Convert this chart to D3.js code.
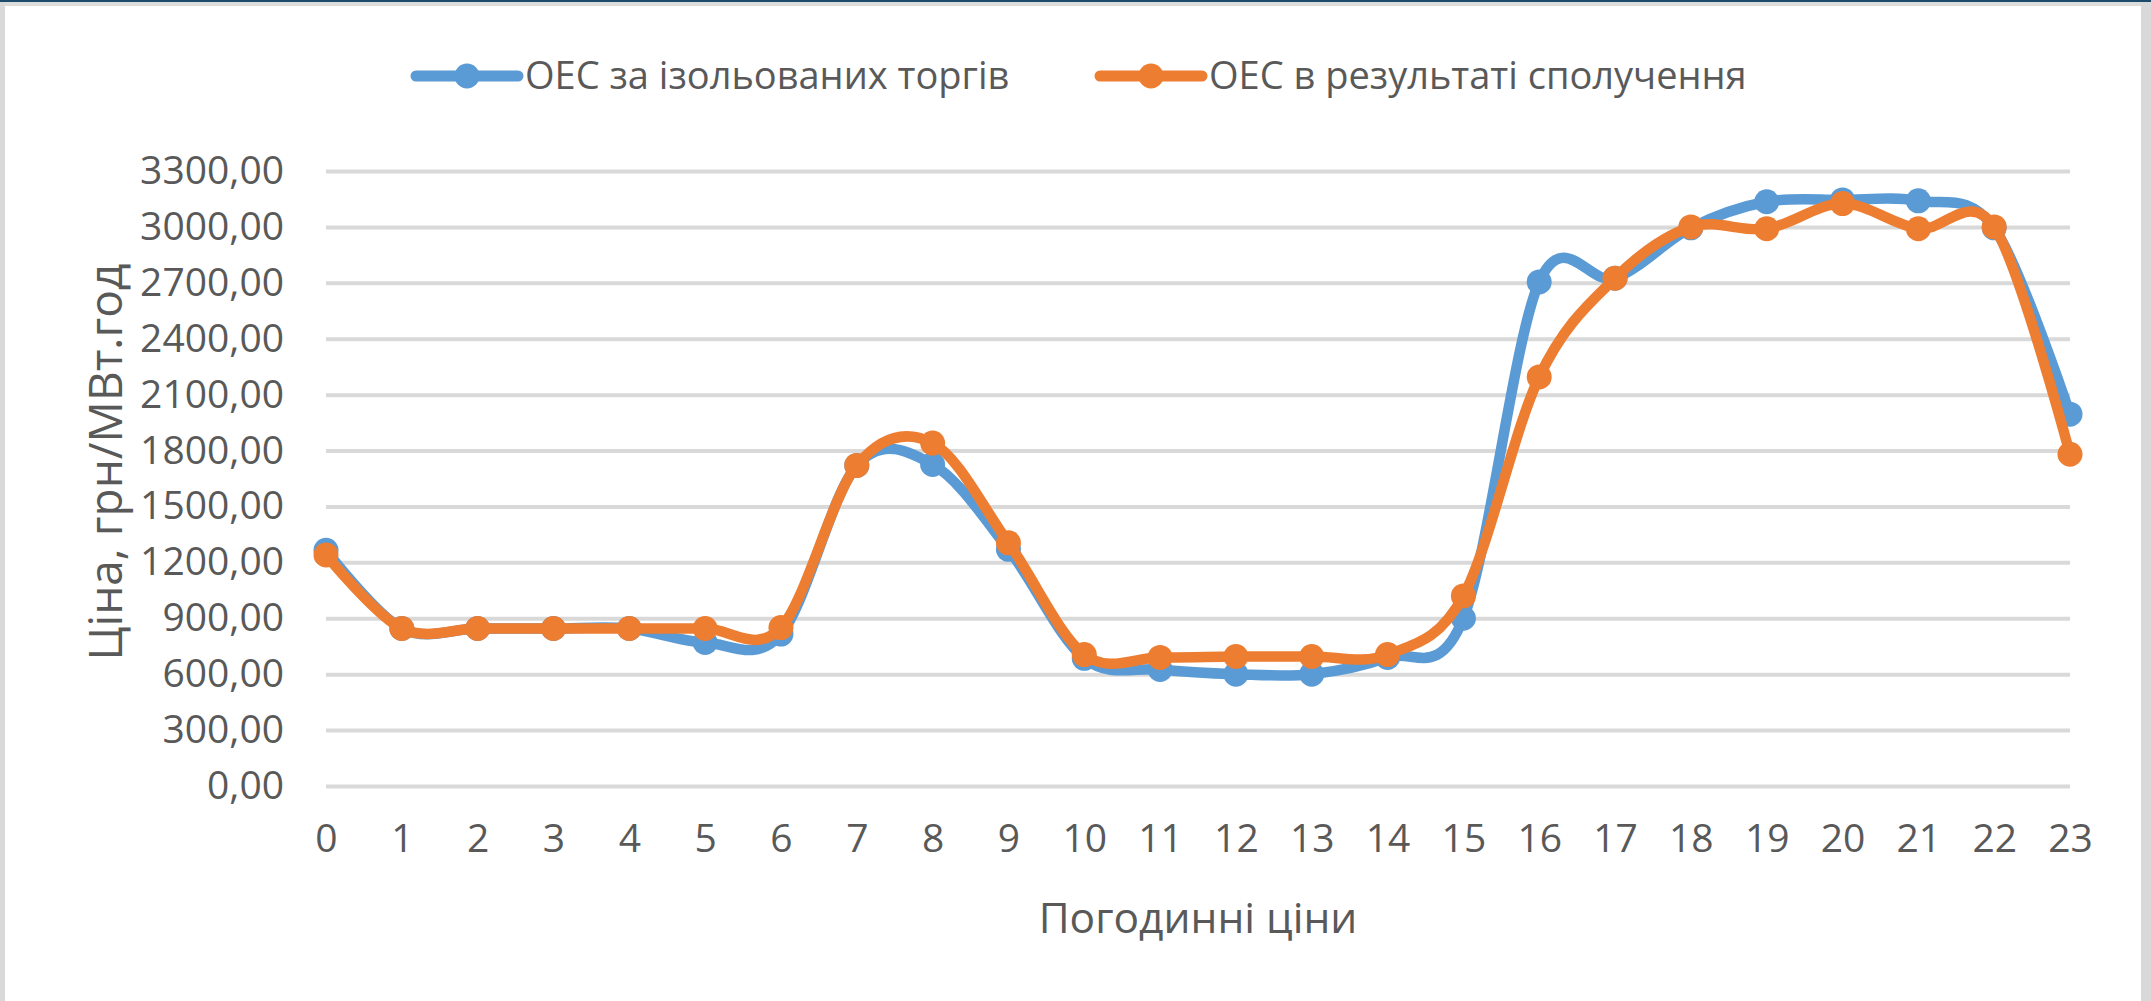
<!DOCTYPE html>
<html>
<head>
<meta charset="utf-8">
<script src="https://cdn.jsdelivr.net/npm/d3@7"></script>
<style>
  html, body { margin: 0; padding: 0; background: #fff; }
  svg text { font-family: "Open Sans", "DejaVu Sans", sans-serif; fill: #595959; }
</style>
</head>
<body>
<div id="chart"></div>
<script>
// hourly prices, грн/МВт.год
var hours = [0, 1, 2, 3, 4, 5, 6, 7, 8, 9, 10, 11, 12, 13, 14, 15, 16, 17, 18, 19, 20, 21, 22, 23];
var isolated = [1265, 845, 845, 845, 845, 770, 815, 1720, 1725, 1270, 685, 625, 600, 600, 690, 900, 2705, 2725, 2995, 3135, 3145, 3140, 2995, 1995];
var combined = [1240, 845, 845, 845, 845, 845, 850, 1720, 1840, 1305, 705, 690, 695, 695, 705, 1020, 2195, 2725, 3000, 2990, 3125, 2990, 3000, 1780];
var yTicks = [0, 300, 600, 900, 1200, 1500, 1800, 2100, 2400, 2700, 3000, 3300];
var seriesNames = ["ОЕС за ізольованих торгів", "ОЕС в результаті сполучення"];
var seriesColors = ["#5B9BD5", "#ED7D31"];

function drawChart(selector) {
    var width = 2151, height = 1001;
    var left = 326, right = 2070, top = 171, bottom = 786;

    var svg = d3.select(selector)
        .append("svg")
        .attr("width", width)
        .attr("height", height);

    // frame of the screenshot
    svg.append("rect").attr("x", 0).attr("y", 0).attr("width", width).attr("height", height).attr("fill", "#fff");
    svg.append("rect").attr("x", 0).attr("y", 1).attr("width", width).attr("height", 5).attr("fill", "#DCDCDC");
    svg.append("rect").attr("x", 0).attr("y", 0).attr("width", 5).attr("height", height).attr("fill", "#D9D9D9");
    svg.append("rect").attr("x", 2141).attr("y", 0).attr("width", 10).attr("height", height).attr("fill", "#D9D9D9");
    svg.append("rect").attr("x", 0).attr("y", 0).attr("width", width).attr("height", 2).attr("fill", "#1B4A6B");

    var x = d3.scaleLinear().domain([0, 23]).range([left, right]);
    var y = d3.scaleLinear().domain([0, 3300]).range([bottom, top]);

    // gridlines + y labels
    var yAxis = d3.axisLeft(y)
        .tickValues(yTicks)
        .tickSize(-(right - left))
        .tickPadding(42)
        .tickFormat(function(d) { return d3.format(".2f")(d).replace(".", ","); });

    var gy = svg.append("g")
        .attr("transform", "translate(" + left + ",0)")
        .call(yAxis);
    gy.select(".domain").remove();
    gy.selectAll(".tick line").attr("stroke", "#D9D9D9").attr("stroke-width", 4);
    gy.selectAll(".tick text")
        .attr("font-size", 39)
        .attr("fill", "#595959")
        .attr("font-family", "Open Sans");

    // x labels
    var xAxis = d3.axisBottom(x)
        .tickValues(hours)
        .tickSize(0)
        .tickPadding(38)
        .tickFormat(d3.format("d"));
    var gx = svg.append("g")
        .attr("transform", "translate(0," + bottom + ")")
        .call(xAxis);
    gx.select(".domain").remove();
    gx.selectAll(".tick text")
        .attr("font-size", 39)
        .attr("fill", "#595959")
        .attr("font-family", "Open Sans");

    // axis titles
    svg.append("text")
        .attr("x", (left + right) / 2)
        .attr("y", 933)
        .attr("text-anchor", "middle")
        .attr("font-size", 42.5)
        .text("Погодинні ціни");

    svg.append("text")
        .attr("transform", "translate(122,462) rotate(-90)")
        .attr("text-anchor", "middle")
        .attr("font-size", 46)
        .text("Ціна, грн/МВт.год");

    var line = d3.line()
        .x(function(d, i) { return x(hours[i]); })
        .y(function(d) { return y(d); })
        .curve(d3.curveCatmullRom.alpha(0));

    [isolated, combined].forEach(function(values, k) {
        var g = svg.append("g").attr("class", "series");
        g.append("path")
            .datum(values)
            .attr("d", line)
            .attr("fill", "none")
            .attr("stroke", seriesColors[k])
            .attr("stroke-width", 10.5)
            .attr("stroke-linejoin", "round")
            .attr("stroke-linecap", "round");
        g.selectAll("circle")
            .data(values).enter().append("circle")
            .attr("cx", function(d, i) { return x(hours[i]); })
            .attr("cy", function(d) { return y(d); })
            .attr("r", 12.5)
            .attr("fill", seriesColors[k]);
    });

    // legend
    var legendX = [416, 1100];
    var legend = svg.selectAll(".legend")
        .data(seriesNames).enter().append("g")
        .attr("class", "legend")
        .attr("transform", function(d, i) { return "translate(" + legendX[i] + ",76)"; });
    legend.append("line")
        .attr("x1", 0).attr("x2", 102)
        .attr("stroke", function(d, i) { return seriesColors[i]; })
        .attr("stroke-width", 11)
        .attr("stroke-linecap", "round");
    legend.append("circle")
        .attr("cx", 51)
        .attr("r", 12.5)
        .attr("fill", function(d, i) { return seriesColors[i]; });
    legend.append("text")
        .attr("x", 109)
        .attr("dy", "0.35em")
        .attr("font-size", 38)
        .text(function(d) { return d; });
}

drawChart("#chart");
</script>
</body>
</html>
